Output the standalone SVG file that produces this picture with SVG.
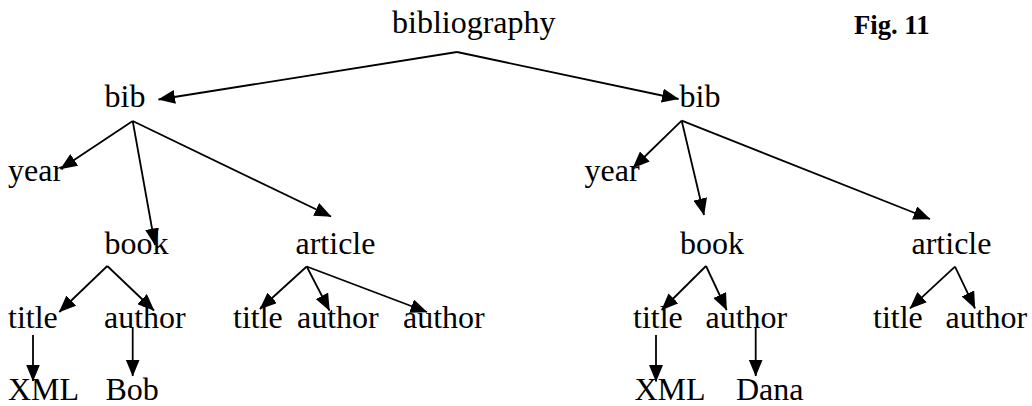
<svg xmlns="http://www.w3.org/2000/svg" width="1032" height="406" viewBox="0 0 1032 406">
  <style>
    .lbl { font-family: "Liberation Serif", "Times New Roman", serif; font-size: 32px; fill: #000; }
    .fig { font-family: "Liberation Serif", "Times New Roman", serif; font-size: 26.67px; font-weight: bold; fill: #000; }
    .edge { stroke: #000; stroke-width: 1.8; fill: none; marker-end: url(#arrow); }
  </style>
  <defs>
    <marker id="arrow" markerUnits="userSpaceOnUse" viewBox="0 0 17 14" markerWidth="17" markerHeight="14" refX="16.5" refY="7" orient="auto">
      <path d="M0,0 L17,7 L0,14 Z" fill="#000"/>
    </marker>
  </defs>
  <rect width="1032" height="406" fill="#fff"/>

  <!-- figure caption -->
  <text class="fig" x="854" y="34">Fig. 11</text>

  <!-- tree nodes -->
  <g id="n-bibliography"><text class="lbl" x="392" y="33">bibliography</text></g>

  <g id="n-bib-1"><text class="lbl" x="104.5" y="107">bib</text></g>
  <g id="n-year-1"><text class="lbl" x="8" y="181">year</text></g>
  <g id="n-book-1"><text class="lbl" x="104.5" y="254">book</text></g>
  <g id="n-article-1"><text class="lbl" x="295.5" y="254">article</text></g>
  <g id="n-title-1"><text class="lbl" x="8" y="328">title</text></g>
  <g id="n-author-1"><text class="lbl" x="104" y="328">author</text></g>
  <g id="n-title-2"><text class="lbl" x="233" y="328">title</text></g>
  <g id="n-author-2"><text class="lbl" x="297" y="328">author</text></g>
  <g id="n-author-3"><text class="lbl" x="403" y="328">author</text></g>
  <g id="n-xml-1"><text class="lbl" x="8" y="400">XML</text></g>
  <g id="n-bob"><text class="lbl" x="105.5" y="400">Bob</text></g>

  <g id="n-bib-2"><text class="lbl" x="679.5" y="107">bib</text></g>
  <g id="n-year-2"><text class="lbl" x="584.5" y="181">year</text></g>
  <g id="n-book-2"><text class="lbl" x="680" y="254">book</text></g>
  <g id="n-article-2"><text class="lbl" x="911.5" y="254">article</text></g>
  <g id="n-title-3"><text class="lbl" x="633" y="328">title</text></g>
  <g id="n-author-4"><text class="lbl" x="705.5" y="328">author</text></g>
  <g id="n-title-4"><text class="lbl" x="873" y="328">title</text></g>
  <g id="n-author-5"><text class="lbl" x="945.5" y="328">author</text></g>
  <g id="n-xml-2"><text class="lbl" x="634.5" y="400">XML</text></g>
  <g id="n-dana"><text class="lbl" x="736" y="400">Dana</text></g>

  <!-- parent-to-child edges -->
  <g id="connectors">
    <line class="edge" x1="457" y1="52" x2="158.5" y2="99.5"/>
    <line class="edge" x1="457" y1="52" x2="678.5" y2="99"/>

    <line class="edge" x1="132.7" y1="121" x2="60.5" y2="169"/>
    <line class="edge" x1="132.7" y1="121" x2="155" y2="245"/>
    <line class="edge" x1="132.7" y1="121" x2="331" y2="216.5"/>

    <line class="edge" x1="107.3" y1="266" x2="59.3" y2="312"/>
    <line class="edge" x1="107.3" y1="266" x2="154" y2="310.5"/>
    <line class="edge" x1="33" y1="335" x2="33" y2="381"/>
    <line class="edge" x1="132.7" y1="328" x2="132.7" y2="376"/>

    <line class="edge" x1="306.7" y1="266.5" x2="260" y2="309"/>
    <line class="edge" x1="306.7" y1="266.5" x2="329.5" y2="310.5"/>
    <line class="edge" x1="306.7" y1="266.5" x2="427" y2="312"/>

    <line class="edge" x1="681.7" y1="120.7" x2="633" y2="168"/>
    <line class="edge" x1="681.7" y1="120.7" x2="704" y2="215"/>
    <line class="edge" x1="681.7" y1="120.7" x2="930" y2="219"/>

    <line class="edge" x1="706" y1="266" x2="661.7" y2="310"/>
    <line class="edge" x1="706" y1="266" x2="726.7" y2="310"/>
    <line class="edge" x1="656" y1="335" x2="656" y2="381.5"/>
    <line class="edge" x1="755.7" y1="328" x2="755.7" y2="376"/>

    <line class="edge" x1="955" y1="266.7" x2="910" y2="308.3"/>
    <line class="edge" x1="955" y1="266.7" x2="975" y2="308.3"/>
  </g>
</svg>
